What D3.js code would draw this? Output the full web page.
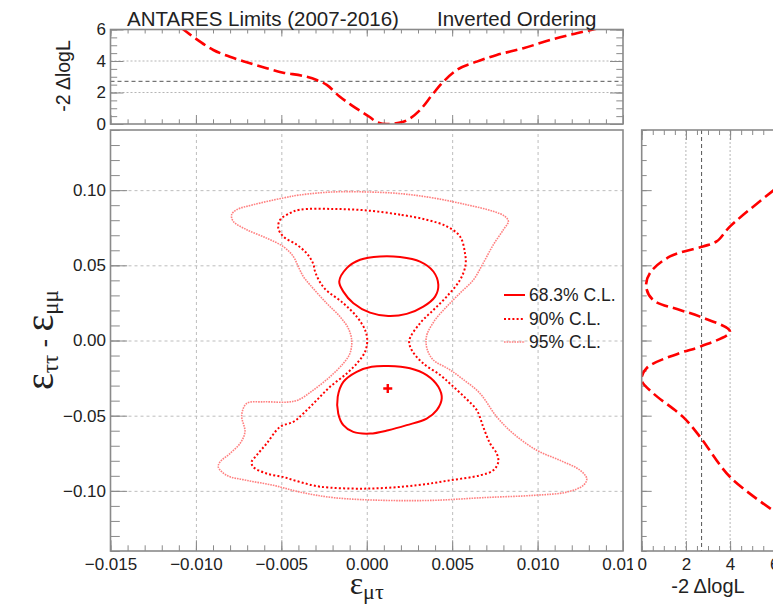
<!DOCTYPE html>
<html>
<head>
<meta charset="utf-8">
<script src="https://cdn.jsdelivr.net/npm/d3@7"></script>
<style>
  body { margin: 0; background: #fff; }
  svg { display: block; }
  text { font-family: "Liberation Sans", Arial, Helvetica, sans-serif; fill: #222; }
</style>
</head>
<body>
<svg id="chart" width="773" height="605"></svg>
<script>
// ---- Profile scan of eps_mu_tau (top panel): x, -2 dlogL
const scanMuTauX = [-0.01083, -0.01016, -0.00898, -0.00801, -0.00703, -0.00586, -0.00489, -0.00371,
  -0.00293, -0.00234, -0.00157, -0.0009, 0.00015, 0.0006, 0.00117, 0.00214, 0.00312, 0.0039,
  0.00458, 0.00527, 0.00644, 0.00761, 0.00917, 0.01073, 0.01229, 0.01356];
const scanMuTauChi2 = [6.08, 5.54, 4.70, 4.27, 3.92, 3.54, 3.26, 3.05,
  2.79, 2.48, 1.73, 1.2, 0.46, 0.12, 0.0, 0.15, 0.89, 1.95,
  2.79, 3.43, 3.96, 4.38, 4.81, 5.33, 5.76, 6.08];

// ---- Profile scan of eps_tautau - eps_mumu (right panel): y, -2 dlogL
const scanTauMuY = [0.1003, 0.0759, 0.0659, 0.0625, 0.0559, 0.045, 0.0359, 0.027, 0.0203, 0.0159,
  0.0059, -0.0041, -0.0083, -0.0183, -0.0263, -0.035, -0.0508, -0.0641, -0.0908, -0.113];
const scanTauMuChi2 = [6.0, 4.0, 3.39, 2.77, 1.28, 0.38, 0.2, 0.51, 1.73, 2.64,
  4.0, 2.64, 1.73, 0.23, 0.0, 0.51, 1.87, 2.64, 4.0, 5.94];

// ---- Confidence contours [eps_mu_tau, eps_tautau - eps_mumu]
const cl68Upper = [[-0.00161, 0.0392], [-0.00137, 0.0325], [-0.00078, 0.0248], [0.00019, 0.0185],
  [0.00126, 0.0163], [0.00234, 0.0177], [0.00331, 0.0225], [0.00400, 0.0292], [0.00419, 0.0370],
  [0.00390, 0.0459], [0.00312, 0.0525], [0.00195, 0.0555], [0.00078, 0.0559], [-0.00039, 0.0537],
  [-0.00117, 0.0481]];
const cl68Lower = [[0.00126, -0.0170], [0.00253, -0.0185], [0.00351, -0.0230], [0.00419, -0.0308],
  [0.00439, -0.0385], [0.00410, -0.0463], [0.00351, -0.0519], [0.00234, -0.0563], [0.00126, -0.0597],
  [0.00019, -0.0619], [-0.00079, -0.0608], [-0.00137, -0.0563], [-0.00167, -0.0485], [-0.00170, -0.0375],
  [-0.00137, -0.0275], [-0.00059, -0.0208], [0.00029, -0.0175]];
const cl90 = [[0.00351, 0.0803], [0.00195, 0.0837], [0.0, 0.0865], [-0.00196, 0.0875], [-0.00391, 0.0870],
  [-0.00448, 0.0848], [-0.00507, 0.0803], [-0.00518, 0.0748], [-0.00489, 0.0692], [-0.00410, 0.0637],
  [-0.00352, 0.0581], [-0.00315, 0.0515], [-0.00300, 0.0450], [-0.0025, 0.0350], [-0.00137, 0.0248],
  [-0.00059, 0.0159], [-0.00010, 0.0070], [0.00003, 0.0], [-0.00010, -0.0075], [-0.00049, -0.0141],
  [-0.00117, -0.0219], [-0.00215, -0.0308], [-0.00293, -0.0397], [-0.00371, -0.0485], [-0.0043, -0.0541],
  [-0.00508, -0.0575], [-0.00586, -0.0685], [-0.00644, -0.0763], [-0.00674, -0.0808], [-0.00664, -0.0841],
  [-0.00586, -0.0885], [-0.00489, -0.0908], [-0.00391, -0.0941], [-0.00274, -0.0972], [0.0, -0.0985],
  [0.00292, -0.0963], [0.00487, -0.0930], [0.00663, -0.0897], [0.00741, -0.0863], [0.0077, -0.0808],
  [0.00761, -0.0752], [0.00722, -0.0685], [0.00682, -0.0575], [0.00644, -0.0463], [0.0058, -0.0385],
  [0.0050, -0.0300], [0.0043, -0.0230], [0.0033, -0.0152], [0.00263, -0.0063], [0.00249, 0.0],
  [0.00312, 0.0115], [0.00390, 0.0203], [0.00468, 0.0292], [0.00546, 0.0403], [0.00578, 0.0500],
  [0.00575, 0.0581], [0.00546, 0.0692], [0.00468, 0.0759]];
const cl95 = [[0.00585, 0.0903], [0.0039, 0.0948], [0.00195, 0.0977], [0.0, 0.0988], [-0.00196, 0.0988],
  [-0.00391, 0.0968], [-0.00489, 0.0948], [-0.00664, 0.0903], [-0.00761, 0.0870], [-0.00791, 0.0837],
  [-0.00781, 0.0792], [-0.00703, 0.0737], [-0.00586, 0.0681], [-0.00489, 0.0625], [-0.0043, 0.0559],
  [-0.00401, 0.0492], [-0.00371, 0.0425], [-0.00332, 0.0370], [-0.00235, 0.0248], [-0.00157, 0.0159],
  [-0.00108, 0.0081], [-0.00088, 0.0], [-0.00098, -0.0085], [-0.00137, -0.0152], [-0.00215, -0.0241],
  [-0.00313, -0.0330], [-0.0040, -0.0395], [-0.0047, -0.0410], [-0.00606, -0.0408], [-0.00703, -0.0419],
  [-0.00732, -0.0497], [-0.00713, -0.0608], [-0.00742, -0.0685], [-0.00801, -0.0752], [-0.00859, -0.0808],
  [-0.00869, -0.0841], [-0.0082, -0.0897], [-0.00703, -0.0930], [-0.00547, -0.0963], [-0.00391, -0.1008],
  [-0.00196, -0.1045], [0.00097, -0.1063], [0.0039, -0.1063], [0.00682, -0.1045], [0.00975, -0.1030],
  [0.01171, -0.1008], [0.01268, -0.0963], [0.01288, -0.0919], [0.01249, -0.0863], [0.01131, -0.0797],
  [0.00995, -0.0730], [0.00858, -0.0619], [0.00761, -0.0508], [0.00663, -0.0352], [0.0056, -0.0255],
  [0.0048, -0.0190], [0.0039, -0.0130], [0.00355, -0.0063], [0.00347, 0.0], [0.00355, 0.0048],
  [0.0040, 0.0137], [0.00468, 0.0225], [0.00546, 0.0315], [0.00624, 0.0403], [0.00682, 0.0515],
  [0.00741, 0.0637], [0.0080, 0.0737], [0.00829, 0.0792], [0.00809, 0.0825], [0.00741, 0.0859]];
const bestFit = [0.00123, -0.0319];

// ---- Axis ticks and reference levels
const xMajorTicks = [-0.015, -0.010, -0.005, 0.000, 0.005, 0.010, 0.015];
const yMajorTicks = [-0.10, -0.05, 0.00, 0.05, 0.10];
const chi2MajorTicks = [0, 2, 4, 6];
const chi2GridLevels = [2, 4];
const chi2Threshold = 2.71;
const legendLabels = ["68.3% C.L.", "90% C.L.", "95% C.L."];
const titleLeft = "ANTARES Limits (2007-2016)";
const titleRight = "Inverted Ordering";

// ---- Layout
const svg = d3.select("#chart");
const frameColor = "#8a8a8a";
const red = "#ff0000";
const lightRed = "#ff8080";
const main = { left: 110.5, right: 623, top: 130, bottom: 551 };
const topP = { top: 29.5, bottom: 124 };
const side = { left: 641.7, right: 774.3 };

const x = d3.scaleLinear().domain([-0.015, 0.015]).range([main.left, main.right]);
const y = d3.scaleLinear().domain([-0.14, 0.14]).range([main.bottom, main.top]);
const yTop = d3.scaleLinear().domain([0, 6]).range([topP.bottom, topP.top]);
const xSide = d3.scaleLinear().domain([0, 6]).range([side.left, side.right]);

const xMinor = d3.range(-15, 16).map(d => d / 1000);
const yMinor = d3.range(-14, 15).map(d => d / 100);
const chi2Minor = d3.range(0, 13).map(d => d / 2);

function styleAxis(g) {
  g.select(".domain").remove();
  g.selectAll(".tick line").attr("stroke", frameColor).attr("stroke-width", 1);
  g.selectAll(".tick text").attr("font-size", 17).attr("fill", "#222")
    .attr("font-family", "Liberation Sans, Arial, sans-serif");
  return g;
}
function gridAxis(g, dash, color) {
  g.select(".domain").remove();
  g.selectAll(".tick line").attr("stroke", color).attr("stroke-dasharray", dash).attr("stroke-width", 1);
  g.selectAll(".tick text").remove();
}

// ================= Main panel =================
const gMain = svg.append("g");
// grid
gMain.append("g").attr("transform", `translate(0,${main.bottom})`)
  .call(d3.axisBottom(x).tickValues(xMajorTicks.slice(1, -1)).tickSize(-(main.bottom - main.top)))
  .call(g => gridAxis(g, "3,3", "#bdbdbd"));
gMain.append("g").attr("transform", `translate(${main.left},0)`)
  .call(d3.axisLeft(y).tickValues(yMajorTicks).tickSize(-(main.right - main.left)))
  .call(g => gridAxis(g, "3,3", "#bdbdbd"));

// ticks and labels
gMain.append("g").attr("transform", `translate(0,${main.bottom})`)
  .call(d3.axisBottom(x).tickValues(xMinor).tickSize(-5.7).tickFormat(""))
  .call(styleAxis);
gMain.append("g").attr("transform", `translate(0,${main.bottom})`)
  .call(d3.axisBottom(x).tickValues(xMajorTicks).tickSize(-10.7).tickPadding(7).tickFormat(d3.format(".3f")))
  .call(styleAxis);
gMain.append("g").attr("transform", `translate(${main.left},0)`)
  .call(d3.axisLeft(y).tickValues(yMinor).tickSize(-9.3).tickFormat(""))
  .call(styleAxis);
gMain.append("g").attr("transform", `translate(${main.left},0)`)
  .call(d3.axisLeft(y).tickValues(yMajorTicks).tickSize(-16.7).tickPadding(4.5).tickFormat(d3.format(".2f")))
  .call(styleAxis);

// contours
const contourLine = d3.line().x(d => x(d[0])).y(d => y(d[1])).curve(d3.curveCatmullRomClosed.alpha(0.5));
gMain.append("path").attr("d", contourLine(cl95)).attr("fill", "none")
  .attr("stroke", lightRed).attr("stroke-width", 1.6).attr("stroke-dasharray", "1.6,1");
gMain.append("path").attr("d", contourLine(cl90)).attr("fill", "none")
  .attr("stroke", red).attr("stroke-width", 2).attr("stroke-dasharray", "2,2.2");
[cl68Upper, cl68Lower].forEach(c => {
  gMain.append("path").attr("d", contourLine(c)).attr("fill", "none")
    .attr("stroke", red).attr("stroke-width", 2);
});

// best-fit marker
const bx = x(bestFit[0]), by = y(bestFit[1]);
gMain.append("path").attr("d", `M${bx - 4.5},${by}H${bx + 4.5}M${bx},${by - 4.5}V${by + 4.5}`)
  .attr("stroke", red).attr("stroke-width", 2.4);

// legend
const legendStyles = [
  { w: 2, dash: null, color: red },
  { w: 2, dash: "2,2.2", color: red },
  { w: 1.6, dash: "1.6,1", color: lightRed }
];
const legendY = [295, 319, 342];
legendLabels.forEach((lab, i) => {
  const s = legendStyles[i];
  gMain.append("line").attr("x1", 504).attr("x2", 525).attr("y1", legendY[i]).attr("y2", legendY[i])
    .attr("stroke", s.color).attr("stroke-width", s.w).attr("stroke-dasharray", s.dash);
  gMain.append("text").attr("x", 529).attr("y", legendY[i]).attr("dy", "0.35em")
    .attr("font-size", 17.5).text(lab);
});

// frame
gMain.append("rect").attr("x", main.left).attr("y", main.top)
  .attr("width", main.right - main.left).attr("height", main.bottom - main.top)
  .attr("fill", "none").attr("stroke", frameColor).attr("stroke-width", 1.6);

// axis titles
const xTitle = svg.append("text").attr("x", 366.7).attr("y", 594).attr("text-anchor", "middle");
xTitle.append("tspan").attr("font-family", "Liberation Serif, Times New Roman, serif").attr("font-size", 32).text("ε");
xTitle.append("tspan").attr("font-family", "Liberation Serif, Times New Roman, serif").attr("font-size", 22).attr("dy", 5).text("μτ");

const yTitle = svg.append("text").attr("transform", "translate(53,340) rotate(-90)").attr("text-anchor", "middle");
yTitle.append("tspan").attr("font-family", "Liberation Serif, Times New Roman, serif").attr("font-size", 40).text("ε");
yTitle.append("tspan").attr("font-family", "Liberation Serif, Times New Roman, serif").attr("font-size", 23).attr("dy", 5).text("ττ");
yTitle.append("tspan").attr("font-size", 26).attr("dy", -5).text(" - ");
yTitle.append("tspan").attr("font-family", "Liberation Serif, Times New Roman, serif").attr("font-size", 40).text("ε");
yTitle.append("tspan").attr("font-family", "Liberation Serif, Times New Roman, serif").attr("font-size", 23).attr("dy", 5).text("μμ");

// ================= Top panel =================
const gTop = svg.append("g");
chi2GridLevels.forEach(v => {
  gTop.append("line").attr("x1", main.left).attr("x2", main.right).attr("y1", yTop(v)).attr("y2", yTop(v))
    .attr("stroke", "#b5b5b5").attr("stroke-dasharray", "2,2");
});
gTop.append("line").attr("x1", main.left).attr("x2", main.right)
  .attr("y1", yTop(chi2Threshold)).attr("y2", yTop(chi2Threshold))
  .attr("stroke", "#555").attr("stroke-dasharray", "4,3");

gTop.append("g").attr("transform", `translate(0,${topP.bottom})`)
  .call(d3.axisBottom(x).tickValues(xMinor).tickSize(-4.7).tickFormat("")).call(styleAxis);
gTop.append("g").attr("transform", `translate(0,${topP.bottom})`)
  .call(d3.axisBottom(x).tickValues(xMajorTicks).tickSize(-9).tickFormat("")).call(styleAxis);
gTop.append("g").attr("transform", `translate(0,${topP.top})`)
  .call(d3.axisTop(x).tickValues(xMinor).tickSize(-4).tickFormat("")).call(styleAxis);
gTop.append("g").attr("transform", `translate(0,${topP.top})`)
  .call(d3.axisTop(x).tickValues(xMajorTicks).tickSize(-7).tickFormat("")).call(styleAxis);
gTop.append("g").attr("transform", `translate(${main.left},0)`)
  .call(d3.axisLeft(yTop).tickValues(chi2Minor).tickSize(-6.7).tickFormat("")).call(styleAxis);
gTop.append("g").attr("transform", `translate(${main.left},0)`)
  .call(d3.axisLeft(yTop).tickValues(chi2MajorTicks).tickSize(-13).tickPadding(4.5).tickFormat(d3.format("d")))
  .call(styleAxis);
gTop.append("g").attr("transform", `translate(${main.right},0)`)
  .call(d3.axisRight(yTop).tickValues(chi2Minor).tickSize(-6.7).tickFormat("")).call(styleAxis);
gTop.append("g").attr("transform", `translate(${main.right},0)`)
  .call(d3.axisRight(yTop).tickValues(chi2MajorTicks).tickSize(-13).tickFormat("")).call(styleAxis);

svg.append("clipPath").attr("id", "clipTop").append("rect")
  .attr("x", main.left).attr("y", topP.top).attr("width", main.right - main.left).attr("height", topP.bottom - topP.top);
const topLine = d3.line().x((d, i) => x(scanMuTauX[i])).y(d => yTop(d)).curve(d3.curveMonotoneX);
gTop.append("path").attr("d", topLine(scanMuTauChi2)).attr("clip-path", "url(#clipTop)")
  .attr("fill", "none").attr("stroke", red).attr("stroke-width", 2.6).attr("stroke-dasharray", "12,5");

gTop.append("rect").attr("x", main.left).attr("y", topP.top)
  .attr("width", main.right - main.left).attr("height", topP.bottom - topP.top)
  .attr("fill", "none").attr("stroke", frameColor).attr("stroke-width", 1.6);

svg.append("text").attr("transform", "translate(70,76) rotate(-90)").attr("text-anchor", "middle")
  .attr("font-size", 19.5).text("-2 ΔlogL");
svg.append("text").attr("x", 127).attr("y", 26).attr("font-size", 20.5).text(titleLeft);
svg.append("text").attr("x", 437).attr("y", 26).attr("font-size", 20.5).text(titleRight);

// ================= Right panel =================
const gSide = svg.append("g");
gSide.append("rect").attr("x", 633).attr("y", main.top - 4).attr("width", 773 - 633).attr("height", 605 - main.top + 4)
  .attr("fill", "#fff");
chi2GridLevels.forEach(v => {
  gSide.append("line").attr("x1", xSide(v)).attr("x2", xSide(v)).attr("y1", main.top).attr("y2", main.bottom)
    .attr("stroke", "#b5b5b5").attr("stroke-dasharray", "2,2");
});
gSide.append("line").attr("x1", xSide(chi2Threshold)).attr("x2", xSide(chi2Threshold))
  .attr("y1", main.top).attr("y2", main.bottom)
  .attr("stroke", "#555").attr("stroke-dasharray", "4,3");

gSide.append("g").attr("transform", `translate(0,${main.bottom})`)
  .call(d3.axisBottom(xSide).tickValues(chi2Minor).tickSize(-5).tickFormat("")).call(styleAxis);
gSide.append("g").attr("transform", `translate(0,${main.bottom})`)
  .call(d3.axisBottom(xSide).tickValues(chi2MajorTicks).tickSize(-10).tickPadding(7).tickFormat(d3.format("d")))
  .call(styleAxis);
gSide.append("g").attr("transform", `translate(0,${main.top})`)
  .call(d3.axisTop(xSide).tickValues(chi2Minor).tickSize(-5).tickFormat("")).call(styleAxis);
gSide.append("g").attr("transform", `translate(0,${main.top})`)
  .call(d3.axisTop(xSide).tickValues(chi2MajorTicks).tickSize(-10).tickFormat("")).call(styleAxis);
gSide.append("g").attr("transform", `translate(${side.left},0)`)
  .call(d3.axisLeft(y).tickValues(yMinor).tickSize(-5).tickFormat("")).call(styleAxis);
gSide.append("g").attr("transform", `translate(${side.left},0)`)
  .call(d3.axisLeft(y).tickValues(yMajorTicks).tickSize(-10).tickFormat("")).call(styleAxis);

svg.append("clipPath").attr("id", "clipSide").append("rect")
  .attr("x", side.left).attr("y", main.top).attr("width", side.right - side.left).attr("height", main.bottom - main.top);
const sideLine = d3.line().x(d => xSide(d)).y((d, i) => y(scanTauMuY[i])).curve(d3.curveCatmullRom.alpha(0.5));
gSide.append("path").attr("d", sideLine(scanTauMuChi2)).attr("clip-path", "url(#clipSide)")
  .attr("fill", "none").attr("stroke", red).attr("stroke-width", 2.6).attr("stroke-dasharray", "12,5");

gSide.append("rect").attr("x", side.left).attr("y", main.top)
  .attr("width", side.right - side.left).attr("height", main.bottom - main.top)
  .attr("fill", "none").attr("stroke", frameColor).attr("stroke-width", 1.6);

svg.append("text").attr("x", 708).attr("y", 593).attr("text-anchor", "middle")
  .attr("font-size", 20).text("-2 ΔlogL");
</script>
</body>
</html>
